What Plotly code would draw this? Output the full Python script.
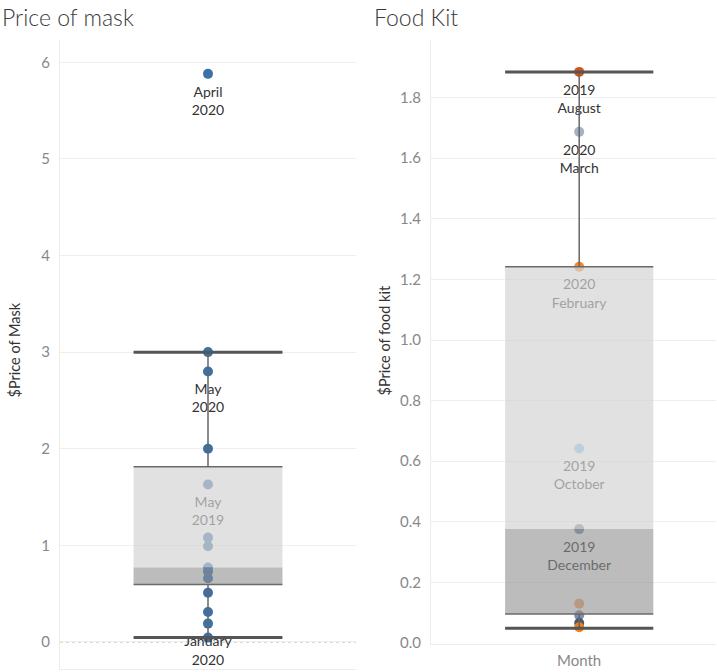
import plotly.graph_objects as go

# ---------------- data ----------------
mask_prices = [5.88, 3.0, 2.8, 2.0, 1.63, 1.08, 0.99, 0.77, 0.73, 0.66, 0.51, 0.31, 0.19, 0.045]
mask_labels = ["April<br>2020", "", "May<br>2020", "", "May<br>2019", "", "", "", "", "", "", "", "January<br>2020", ""]
mask_colors = ["#3e70a8"] * len(mask_prices)
# lower whisker, Q1, median, Q3, upper whisker
mask_box_stats = [0.045, 0.594, 0.77, 1.813, 2.998]

food_prices = [1.885, 1.687, 1.242, 0.642, 0.376, 0.13, 0.092, 0.066, 0.052]
food_labels = ["2019<br>August", "2020<br>March", "2020<br>February", "2019<br>October", "2019<br>December", "", "", "", ""]
food_colors = ["#d8531a", "#a5b2c4", "#f08a2c", "#88c6ee", "#7f8ca3", "#f2a86b", "#7d8ea6", "#485868", "#f57c14"]
food_box_stats = [0.049, 0.096, 0.376, 1.242, 1.885]

FONT = "Lato"

fig = go.Figure()


def add_panel(xa, ya, prices, labels, colors, stats, hw):
    low, q1, med, q3, high = stats
    # points
    fig.add_trace(go.Scatter(
        x=[0] * len(prices), y=prices, mode="markers",
        marker=dict(size=10, color=colors, line=dict(width=0)),
        xaxis=xa, yaxis=ya, hoverinfo="y"))
    # labels (invisible larger markers give the label offset)
    fig.add_trace(go.Scatter(
        x=[0] * len(prices), y=prices, mode="markers+text", text=labels,
        textposition="bottom center",
        textfont=dict(family=FONT, size=14, color="#333333"),
        marker=dict(size=18, color="rgba(0,0,0,0)", line=dict(width=0)),
        xaxis=xa, yaxis=ya, hoverinfo="skip"))
    # upper (light) band: median -> Q3
    fig.add_trace(go.Scatter(
        x=[-hw, hw, hw, -hw, -hw], y=[med, med, q3, q3, med], mode="lines",
        fill="toself", fillcolor="rgba(212,212,212,0.69)", line=dict(width=0),
        xaxis=xa, yaxis=ya, hoverinfo="skip"))
    # lower (dark) band: Q1 -> median
    fig.add_trace(go.Scatter(
        x=[-hw, hw, hw, -hw, -hw], y=[q1, q1, med, med, q1], mode="lines",
        fill="toself", fillcolor="rgba(143,143,143,0.6)", line=dict(width=0),
        xaxis=xa, yaxis=ya, hoverinfo="skip"))
    # box edges
    fig.add_trace(go.Scatter(
        x=[-hw, hw, None, -hw, hw], y=[q3, q3, None, q1, q1], mode="lines",
        line=dict(color="#6a6a6a", width=1.5), xaxis=xa, yaxis=ya, hoverinfo="skip"))
    # whiskers
    fig.add_trace(go.Scatter(
        x=[0, 0, None, 0, 0], y=[q3, high, None, q1, low], mode="lines",
        line=dict(color="#666666", width=1.5), xaxis=xa, yaxis=ya, hoverinfo="skip"))
    # caps
    fig.add_trace(go.Scatter(
        x=[-hw, hw, None, -hw, hw], y=[high, high, None, low, low], mode="lines",
        line=dict(color="#555555", width=3), xaxis=xa, yaxis=ya, hoverinfo="skip"))


add_panel("x", "y", mask_prices, mask_labels, mask_colors, mask_box_stats, 0.503)
add_panel("x2", "y2", food_prices, food_labels, food_colors, food_box_stats, 0.52)

# reference-pixel frame used for domain fractions
W, H = 717, 672
# actual page size of the figure
PAGE_W, PAGE_H = 717, 680

axis_common = dict(showgrid=False, zeroline=False, showticklabels=False, ticks="",
                   showline=True, linecolor="#ececec", linewidth=1, fixedrange=True)
yaxis_common = dict(showgrid=True, gridcolor="#efefef", gridwidth=1, zeroline=False,
                    showline=True, linecolor="#ececec", linewidth=1, ticks="",
                    tickfont=dict(family=FONT, size=15, color="#888888"),
                    ticklabelstandoff=6, fixedrange=True)

title_font = dict(family=FONT, size=23, color="#3a3a3a", weight=300)
ytitle_font = dict(family=FONT, size=14.5, color="#333333")

fig.update_layout(
    autosize=True, margin=dict(l=0, r=0, t=0, b=0),
    paper_bgcolor="white", plot_bgcolor="white", showlegend=False,
    font=dict(family=FONT, color="#333333"),
    xaxis=dict(domain=[60 / W, 356 / W], range=[-1, 1], anchor="y", **axis_common),
    yaxis=dict(domain=[4 / H, 1 - 40 / H], range=[-0.28, 6.23], dtick=1, anchor="x",
               **yaxis_common),
    xaxis2=dict(domain=[431 / W, 716 / W], range=[-1.04, 0.96], anchor="y2", **axis_common),
    yaxis2=dict(domain=[29 / H, 1 - 40 / H], range=[-0.003, 1.99], dtick=0.2, tickformat=".1f",
                anchor="x2", **yaxis_common),
    shapes=[dict(type="line", xref="x domain", x0=0, x1=1, yref="y", y0=0, y1=0,
                 line=dict(color="#a8a8a8", width=1, dash="dot"), layer="below")],
    annotations=[
        dict(text="Price of mask", xref="paper", yref="paper", x=0, y=1 - 17 / H,
             xanchor="left", yanchor="middle", showarrow=False, font=title_font),
        dict(text="Food Kit", xref="paper", yref="paper", x=372 / W, y=1 - 17 / H,
             xanchor="left", yanchor="middle", showarrow=False, font=title_font),
        dict(text="$Price of Mask", xref="paper", yref="paper", x=15 / W, y=1 - 350 / H,
             xanchor="center", yanchor="middle", textangle=-90, showarrow=False,
             font=ytitle_font),
        dict(text="$Price of food kit", xref="paper", yref="paper", x=385 / W, y=1 - 340 / H,
             xanchor="center", yanchor="middle", textangle=-90, showarrow=False,
             font=ytitle_font),
        dict(text="Month", xref="x2", yref="paper", x=0, y=1 - 659 / H,
             xanchor="center", yanchor="middle", showarrow=False,
             font=dict(family=FONT, size=15, color="#888888")),
    ],
)

fig.write_html(
    "out.html",
    config={"displayModeBar": False},
    default_width=f"{PAGE_W}px",
    default_height=f"{PAGE_H}px; position:absolute; top:0; left:0",
)
